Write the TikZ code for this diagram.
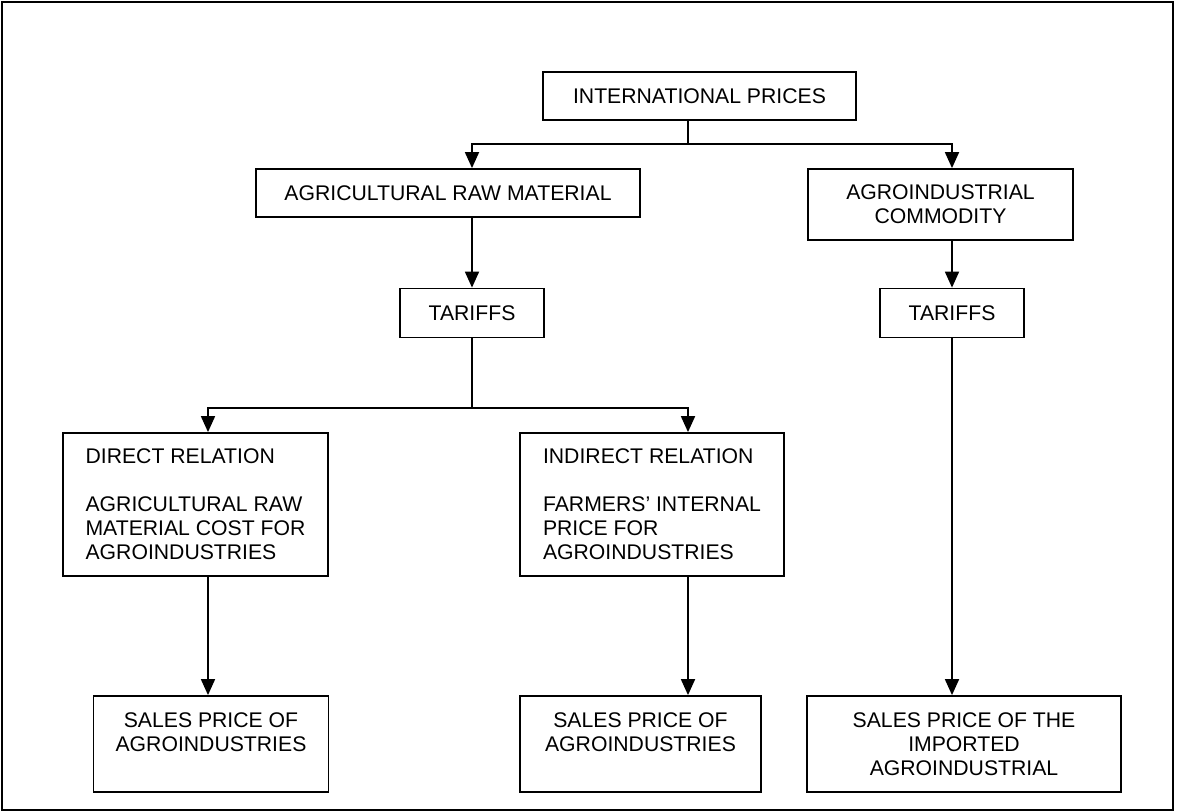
\documentclass[tikz,border=0pt]{standalone}
\usepackage{fontspec}
\setmainfont{Liberation Sans}
\usetikzlibrary{arrows.meta}
\tikzset{
  treenode/.style = {align=center, inner sep=0pt, text centered, font=\fontsize{10.6}{12}\selectfont},
  % B node: plain box, text centred
  arn_B/.style = {treenode, rectangle, draw=black, line width=0.9pt},
  % T node: small tariff box
  arn_T/.style = {arn_B, minimum width=72pt, minimum height=24.5pt},
  % L node: box with left text
  arn_L/.style = {arn_B, align=left, minimum width=132.5pt, minimum height=71.5pt},
  % S node: sales price box
  arn_S/.style = {arn_B, minimum height=48pt}
}
\begin{document}
\begin{tikzpicture}[x=0.5pt,y=-0.5pt,
    line width=0.9pt,
    >={Triangle[length=8pt,width=7pt]}
    ]
    \useasboundingbox (0,0) rectangle (1178,812);
    % Frame:
    \draw [line width=1.2pt] (2,2) rectangle (1173,810);
    % Root node:
    \node [arn_B, minimum width=156.5pt, minimum height=24pt] (ip) at (699.5,96) {INTERNATIONAL PRICES};
    % Layer 1 - product nodes:
    \node [arn_B, minimum width=192pt, minimum height=24pt] (agri) at (448,193) {AGRICULTURAL RAW MATERIAL};
    \node [arn_B, minimum width=132.5pt, minimum height=35.5pt] (agro) at (940.5,204.5) {AGROINDUSTRIAL\\COMMODITY};
    % Layer 2 - tariff nodes:
    \node [arn_T] (tarA) at (472,313) {TARIFFS};
    \node [arn_T] (tarB) at (952,313) {TARIFFS};
    % Layer 3 - relation nodes:
    \node [arn_L] (direct) at (195.5,504.5) {DIRECT RELATION\\[12pt]AGRICULTURAL RAW\\MATERIAL COST FOR\\AGROINDUSTRIES};
    \node [arn_L, minimum width=132pt] (indirect) at (652,504.5) {INDIRECT RELATION\\[12pt]FARMERS’ INTERNAL\\PRICE FOR\\AGROINDUSTRIES};
    % Layer 4 - sales price nodes:
    \node [arn_S, minimum width=117.5pt] (salesA) at (211,744) {SALES PRICE OF\\AGROINDUSTRIES\\\mbox{}};
    \node [arn_S, minimum width=120.5pt] (salesB) at (640.5,744) {SALES PRICE OF\\AGROINDUSTRIES\\\mbox{}};
    \node [arn_S, minimum width=157pt] (salesC) at (964,744) {SALES PRICE OF THE\\IMPORTED\\AGROINDUSTRIAL};
    % Junctions:
    \coordinate (forkA) at (688,144);
    \coordinate (forkB) at (472,408);
    \coordinate (colA) at (208,0);
    \coordinate (colB) at (688,0);
    % Edges:
    \draw (ip.south -| forkA) -- (forkA);
    \draw [->] (forkA) -| (tarA |- agri.north);
    \draw [->] (forkA) -| (tarB |- agro.north);
    \draw [->] (tarA |- agri.south) -- (tarA.north);
    \draw [->] (tarB |- agro.south) -- (tarB.north);
    \draw (tarA.south) -- (forkB);
    \draw [->] (forkB) -| (colA |- direct.north);
    \draw [->] (forkB) -| (colB |- indirect.north);
    \draw [->] (colA |- direct.south) -- (colA |- salesA.north);
    \draw [->] (colB |- indirect.south) -- (colB |- salesB.north);
    \draw [->] (tarB.south) -- (tarB |- salesC.north);
\end{tikzpicture}
\end{document}
